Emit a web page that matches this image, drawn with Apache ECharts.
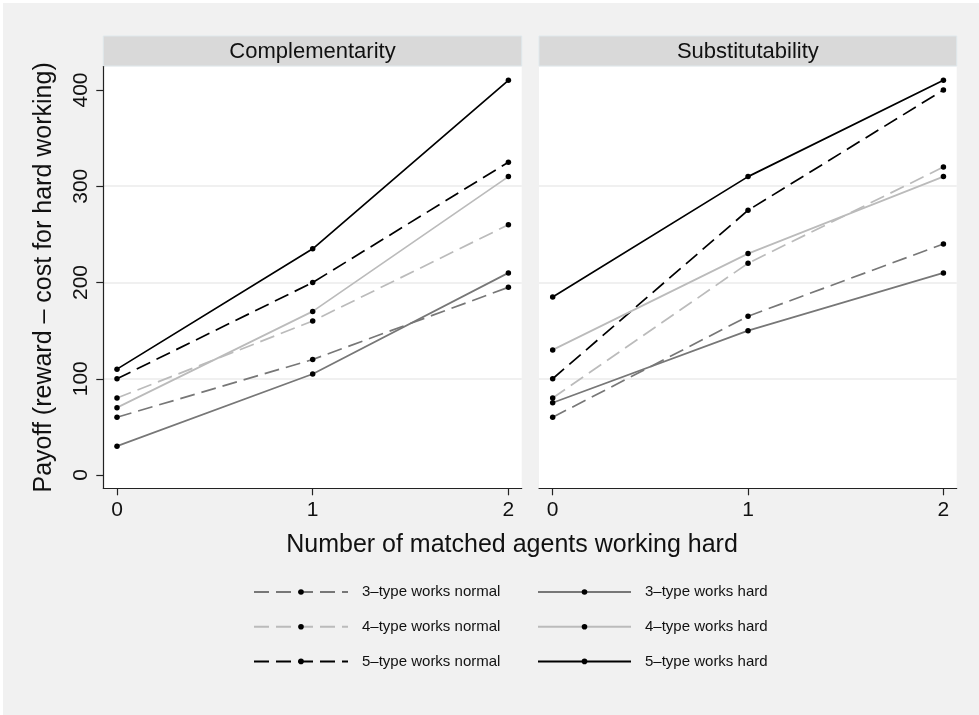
<!DOCTYPE html>
<html>
<head>
<meta charset="utf-8">
<script src="https://cdn.jsdelivr.net/npm/echarts@6/dist/echarts.min.js"></script>
<style>html,body{margin:0;padding:0;background:#fff}#c{width:979px;height:715px}</style>
</head>
<body>
<div id="c"></div>
<script>
// ---- data ----
const xValues = [0, 1, 2];
const xTicks = [0, 1, 2];
const yTicks = [0, 100, 200, 300, 400];
const panels = ['Complementarity', 'Substitutability'];
const seriesNames = ['3–type works normal', '4–type works normal', '5–type works normal',
                     '3–type works hard', '4–type works hard', '5–type works hard'];
// Complementarity
const comp3normal = [60, 120, 195];
const comp4normal = [80, 160, 260];
const comp5normal = [100, 200, 325];
const comp3hard = [30, 105, 210];
const comp4hard = [70, 170, 310];
const comp5hard = [110, 235, 410];
// Substitutability
const sub3normal = [60, 165, 240];
const sub4normal = [80, 220, 320];
const sub5normal = [100, 275, 400];
const sub3hard = [75, 150, 210];
const sub4hard = [130, 230, 310];
const sub5hard = [185, 310, 410];

const xTitle = 'Number of matched agents working hard';
const yTitle = 'Payoff (reward – cost for hard working)';

// ---- styles ----
const FONT = 'Liberation Sans, Arial, Helvetica, sans-serif';
const colors = ['#777777', '#bbbbbb', '#000000', '#777777', '#bbbbbb', '#000000'];
const dashed = [true, true, true, false, false, false];
const panelData = [
  [comp3normal, comp4normal, comp5normal, comp3hard, comp4hard, comp5hard],
  [sub3normal, sub4normal, sub5normal, sub3hard, sub4hard, sub5hard]
];

const grids = [
  {left: 103.3, right: 457.3, top: 66.5, bottom: 226.7},
  {left: 539, right: 22.3, top: 66.5, bottom: 226.7}
];

const series = [];
panelData.forEach((arrs, p) => {
  arrs.forEach((vals, i) => {
    series.push({
      name: seriesNames[i],
      type: 'line',
      xAxisIndex: p, yAxisIndex: p,
      data: xValues.map((x, k) => [x, vals[k]]),
      symbol: 'circle', symbolSize: 5.5,
      showSymbol: true,
      itemStyle: {color: '#000', borderWidth: 0},
      lineStyle: {color: colors[i], width: 1.7, type: dashed[i] ? [15, 7] : 'solid'},
      emphasis: {disabled: true},
      z: 3 + i
    });
  });
});

const xAxes = grids.map((g, p) => ({
  type: 'value', gridIndex: p, min: -0.07, max: 2.068,
  axisLine: {show: true, onZero: false, lineStyle: {color: '#222', width: 1.2}},
  axisTick: {show: true, length: 7, lineStyle: {color: '#222', width: 1.2}, customValues: xTicks},
  axisLabel: {show: true, margin: 11, fontSize: 21, color: '#111', fontFamily: FONT, customValues: xTicks},
  splitLine: {show: false}
}));

const yAxes = grids.map((g, p) => ({
  type: 'value', gridIndex: p, min: -13.8, max: 424.4,
  name: p === 0 ? yTitle : '',
  nameLocation: 'middle', nameRotate: 90, nameGap: 47,
  nameTextStyle: {fontSize: 25, color: '#111', fontFamily: FONT},
  axisLine: {show: p === 0, onZero: false, lineStyle: {color: '#222', width: 1.2}},
  axisTick: {show: p === 0, length: 7, lineStyle: {color: '#222', width: 1.2}, customValues: yTicks},
  axisLabel: {show: p === 0, rotate: 90, margin: 12, fontSize: 21, color: '#111', fontFamily: FONT, customValues: yTicks},
  splitLine: {show: true, showMinLine: false, showMaxLine: false, lineStyle: {color: '#ebebeb', width: 1.5}}
}));

const graphics = [
  {type: 'rect', shape: {x: 0, y: 0, width: 979, height: 3}, style: {fill: '#fff'}, silent: true},
  {type: 'rect', shape: {x: 0, y: 0, width: 3, height: 715}, style: {fill: '#fff'}, silent: true},
  {type: 'text', style: {text: xTitle, x: 512, y: 545, align: 'center', verticalAlign: 'middle',
    textAlign: 'center', textVerticalAlign: 'middle', font: '25px ' + FONT, fill: '#111'}}
];
grids.forEach((g, p) => {
  const x0 = g.left, x1 = 979 - g.right;
  graphics.push({type: 'rect', shape: {x: x0, y: 36, width: x1 - x0, height: 30},
    style: {fill: '#d9d9d9', stroke: '#dfe8ec', lineWidth: 1}, silent: true});
  graphics.push({type: 'text', style: {text: panels[p], x: (x0 + x1) / 2, y: 51.5,
    align: 'center', verticalAlign: 'middle', textAlign: 'center', textVerticalAlign: 'middle',
    font: '22px ' + FONT, fill: '#111'}});
});

const legendCommon = {
  orient: 'vertical', itemHeight: 7, itemGap: 18.7, top: 584, padding: 0,
  textStyle: {fontSize: 15, fontFamily: FONT, color: '#111', lineHeight: 16, padding: [0, 0, 0, 9]},
  selectedMode: false
};

const option = {
  backgroundColor: '#f1f1f1',
  animation: false,
  grid: grids.map(g => Object.assign({show: true, backgroundColor: '#fff', borderWidth: 0, containLabel: false}, g)),
  xAxis: xAxes,
  yAxis: yAxes,
  legend: [
    Object.assign({}, legendCommon, {left: 253, itemWidth: 94, data: seriesNames.slice(0, 3)}),
    Object.assign({}, legendCommon, {left: 537, itemWidth: 93, data: seriesNames.slice(3, 6)})
  ],
  graphic: graphics,
  series: series
};

const chart = echarts.init(document.getElementById('c'), null, {renderer: 'canvas'});
chart.setOption(option);
</script>
</body>
</html>
